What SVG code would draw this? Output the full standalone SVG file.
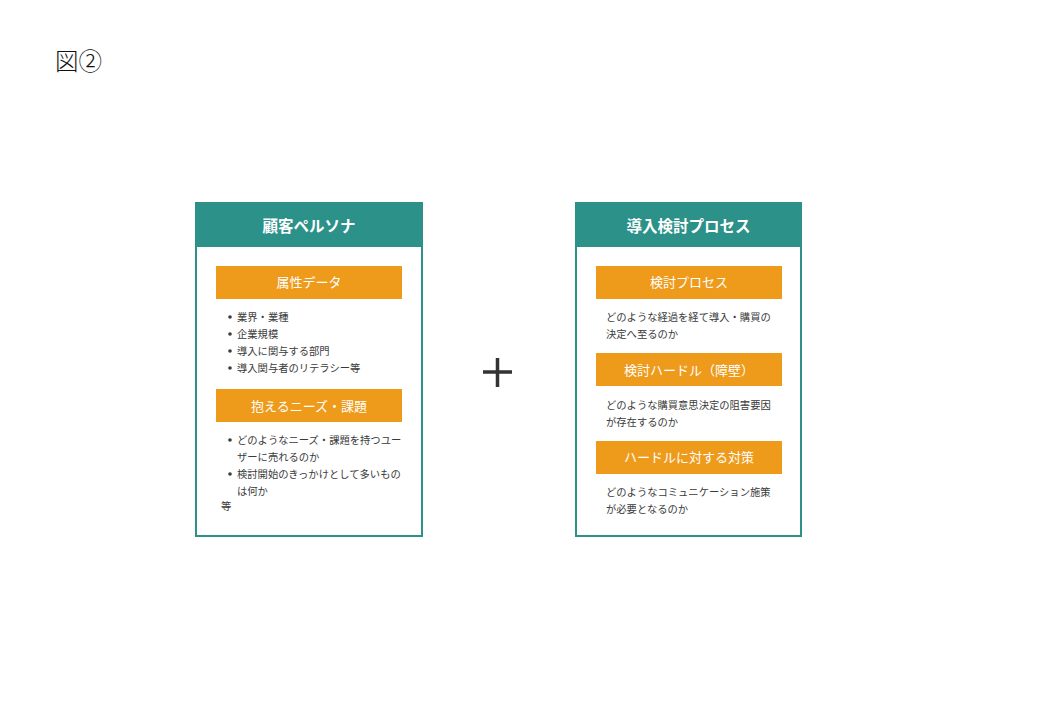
<svg xmlns="http://www.w3.org/2000/svg" width="1042" height="703" viewBox="0 0 1042 703">
<style>
text{font-family:"Noto Sans CJK JP","Noto Sans",sans-serif}
.card{fill:#fff;stroke:#2b9189;stroke-width:2}
.head{fill:#2b9189}
.htxt{fill:#fff;font-size:15.5px;font-weight:bold;text-anchor:middle}
.bar{fill:#ee9b1c}
.btxt{fill:#fff;font-size:13px;text-anchor:middle}
.body{fill:#3a3a3a;font-size:10.3px}
</style>
<rect width="1042" height="703" fill="#fff"/>
<text x="55" y="70" style="font-size:23.5px;font-weight:300;fill:#111">図②</text>
<g id="persona">
<rect class="card" x="196" y="203" width="226" height="333"/>
<rect class="head" x="195" y="202" width="228" height="45"/>
<text class="htxt" x="309" y="232">顧客ペルソナ</text>
<rect class="bar" x="216" y="266" width="186" height="33"/>
<text class="btxt" x="309" y="287">属性データ</text>
<g class="body">
<circle cx="230" cy="317" r="1.8"/><text x="237" y="321">業界・業種</text>
<circle cx="230" cy="334" r="1.8"/><text x="237" y="338">企業規模</text>
<circle cx="230" cy="351" r="1.8"/><text x="237" y="355">導入に関与する部門</text>
<circle cx="230" cy="368" r="1.8"/><text x="237" y="372">導入関与者のリテラシー等</text>
</g>
<rect class="bar" x="216" y="389" width="186" height="33"/>
<text class="btxt" x="309" y="411">抱えるニーズ・課題</text>
<g class="body">
<circle cx="230" cy="440" r="1.8"/><text x="237" y="444">どのようなニーズ・課題を持つユー</text>
<text x="237" y="461">ザーに売れるのか</text>
<circle cx="230" cy="474" r="1.8"/><text x="237" y="478">検討開始のきっかけとして多いもの</text>
<text x="237" y="495">は何か</text>
<text x="221" y="510">等</text>
</g>
</g>
<g id="plus">
<path d="M483 372H512M497.5 358V387" stroke="#333" stroke-width="3.5" fill="none"/>
</g>
<g id="process">
<rect class="card" x="576" y="203" width="225" height="333"/>
<rect class="head" x="575" y="202" width="227" height="45"/>
<text class="htxt" x="688.5" y="232">導入検討プロセス</text>
<rect class="bar" x="596" y="266" width="186" height="33"/>
<text class="btxt" x="689" y="287">検討プロセス</text>
<g class="body">
<text x="606" y="321">どのような経過を経て導入・購買の</text>
<text x="606" y="338">決定へ至るのか</text>
</g>
<rect class="bar" x="596" y="353" width="186" height="33"/>
<text class="btxt" x="689" y="375">検討ハードル（障壁）</text>
<g class="body">
<text x="606" y="409">どのような購買意思決定の阻害要因</text>
<text x="606" y="426">が存在するのか</text>
</g>
<rect class="bar" x="596" y="441" width="186" height="33"/>
<text class="btxt" x="689" y="462">ハードルに対する対策</text>
<g class="body">
<text x="606" y="496">どのようなコミュニケーション施策</text>
<text x="606" y="513">が必要となるのか</text>
</g>
</g>
</svg>
